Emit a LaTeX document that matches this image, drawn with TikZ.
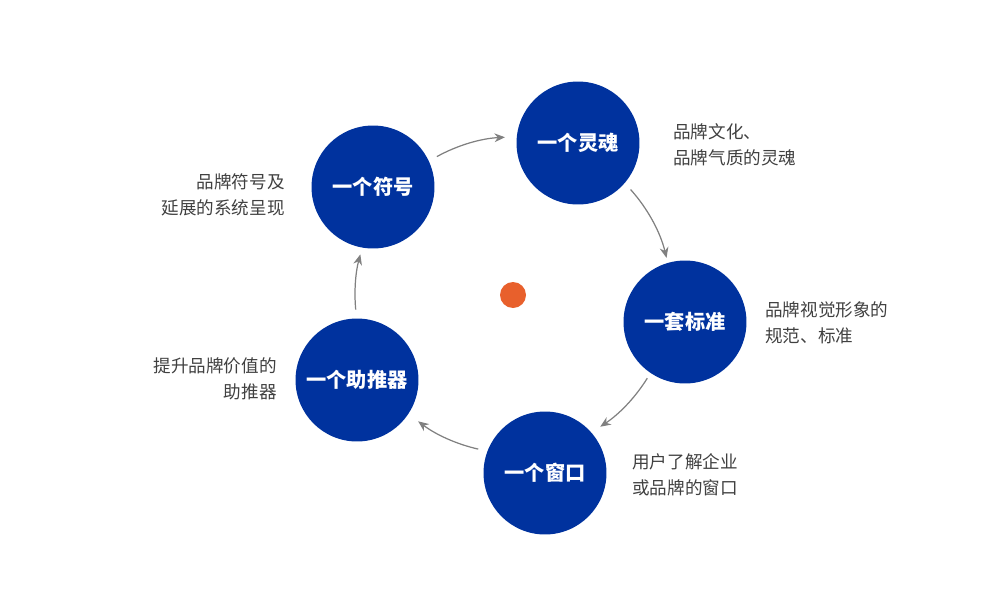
\documentclass[tikz,border=0pt]{standalone}
\usepackage{fontspec}
\usepackage{xcolor}
\usepackage{tikz}
\usetikzlibrary{calc, arrows.meta}
\newfontfamily\cjk{Noto Sans CJK SC}
\definecolor{brandblue}{RGB}{0, 50, 158}
\definecolor{dotorange}{RGB}{232, 96, 44}
\definecolor{flowgray}{RGB}{128, 128, 128}
\definecolor{notegray}{RGB}{64, 64, 64}

\tikzset{
  disc/.style={circle, fill=brandblue, minimum size=2.46cm, inner sep=0pt,
    text=white, font=\cjk\bfseries\fontsize{11.5}{13}\selectfont},
  note/.style={inner sep=0pt, text=notegray, font=\cjk\fontsize{10}{14.8}\selectfont},
  flow/.style={draw=flowgray, line width=0.7pt, -{Stealth[length=6pt, width=5pt]}}
}

\begin{document}
\begin{tikzpicture}[x=0.02cm, y=0.02cm]
			\useasboundingbox (0,0) rectangle (1000,600);
			\def\ring{3.16cm}

			% centre dot
			\node[circle, fill=dotorange, minimum size=0.52cm, inner sep=0pt] (hub) at (513,305) {};

			% five circles
			\node[disc] (soul) at (578,457) {一个灵魂};
			\node[disc] (norm) at (685,278) {一套标准};
			\node[disc] (window) at (545,127) {一个窗口};
			\node[disc] (booster) at (357,220) {一个助推器};
			\node[disc] (symbol) at (373,413) {一个符号};

			% notes beside them
			\node[note, anchor=west, align=left] (soulnote) at (673,455) {品牌文化、\\品牌气质的灵魂};
			\node[note, anchor=west, align=left] (normnote) at (765,277) {品牌视觉形象的\\规范、标准};
			\node[note, anchor=west, align=left] (windownote) at (632,125) {用户了解企业\\或品牌的窗口};
			\node[note, anchor=east, align=right] (boosternote) at (277,221) {提升品牌价值的\\助推器};
			\node[note, anchor=east, align=right] (symbolnote) at (285,405) {品牌符号及\\延展的系统呈现};

			% clockwise arrows round the dot
			\foreach \s/\e in {118.8/92.9, 41.9/13.6, -31.8/-56.5, 257.3/233.1, 185.3/165.1}
				\draw[flow] ($(hub)+(\s:\ring)$) arc[start angle=\s, end angle=\e, radius=\ring];

		\end{tikzpicture}
\end{document}
